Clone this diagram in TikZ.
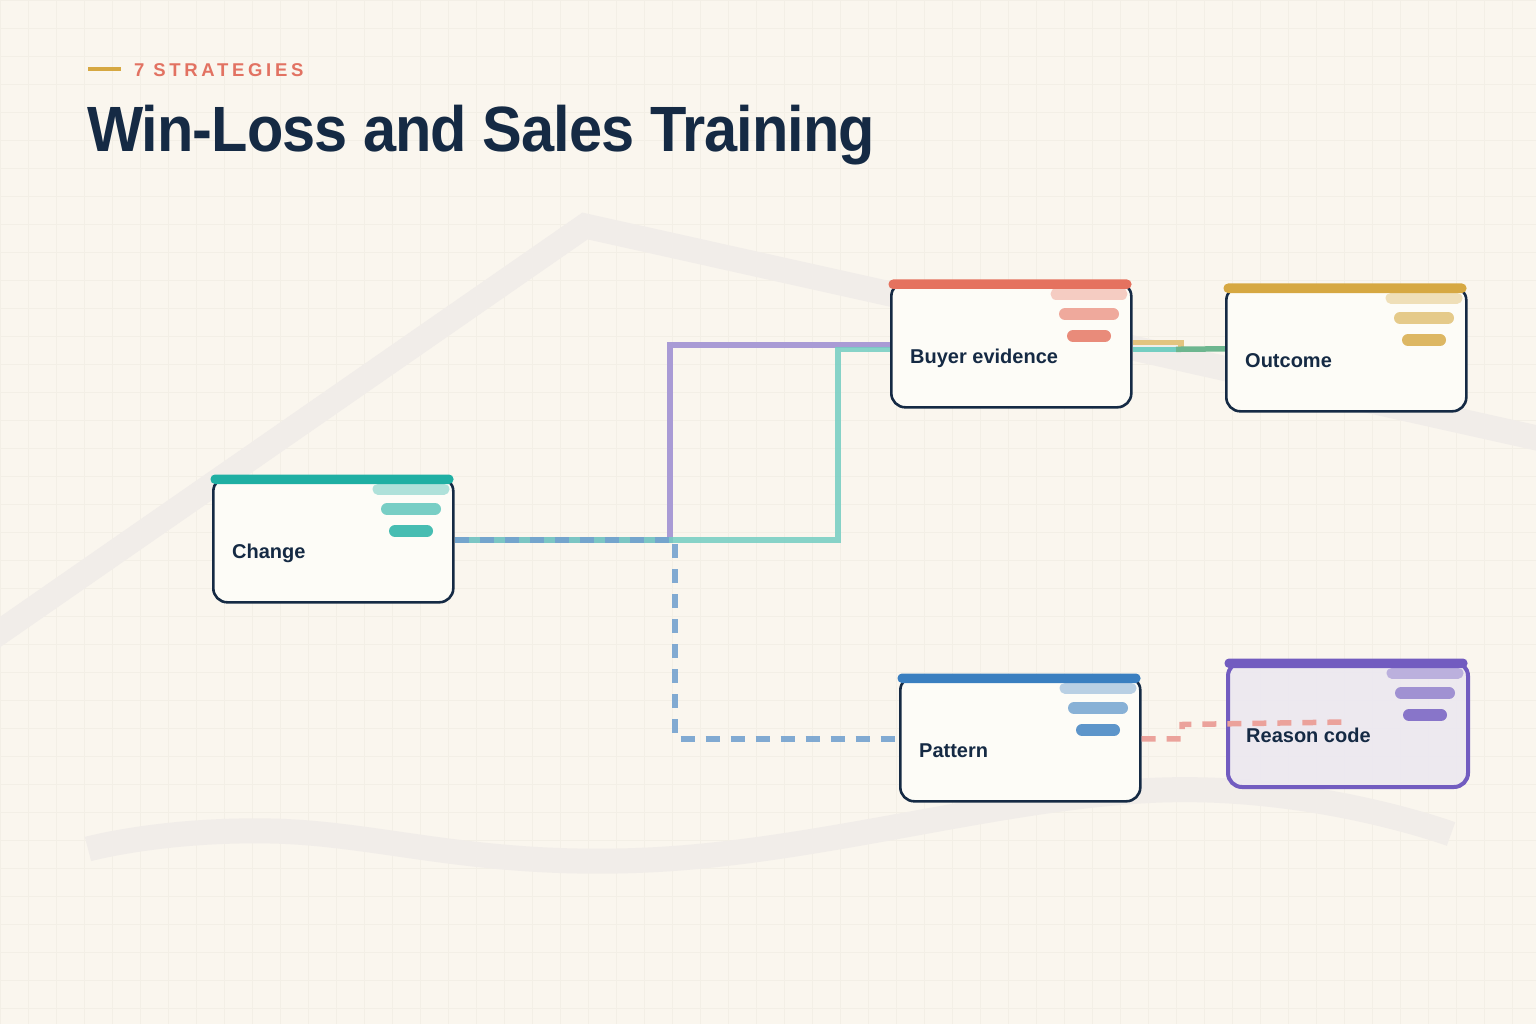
\documentclass[tikz,border=0pt]{standalone}
\usepackage{fontspec}
\setmainfont{Liberation Sans}
\newfontfamily\trackfont[LetterSpace=20]{Liberation Sans}
\newfontfamily\titlefont[FakeStretch=0.93, LetterSpace=-1.5]{Liberation Sans}
\definecolor{bg}{HTML}{FAF6EE}
\definecolor{gridc}{HTML}{F3EFE6}
\definecolor{bandc}{HTML}{F1EDE9}
\definecolor{navy}{HTML}{152A44}
\definecolor{cardfill}{HTML}{FDFCF7}
\definecolor{rcfill}{HTML}{ECE8F0}
\definecolor{cteal}{HTML}{1FAFA3}
\definecolor{cred}{HTML}{E5725F}
\definecolor{cgold}{HTML}{D6A842}
\definecolor{cblue}{HTML}{3A7FC0}
\definecolor{cpurple}{HTML}{725CC0}
\definecolor{lpurple}{HTML}{A99BD5}
\definecolor{lteal}{HTML}{74CEC2}
\definecolor{lblue}{HTML}{7EA8D2}
\definecolor{lred}{HTML}{EBA29B}
\definecolor{lgold}{HTML}{E3C47F}
\definecolor{lgreen}{HTML}{6DB68F}
\definecolor{kicker}{HTML}{E27262}
\tikzset{
  cardbox/.style={draw=navy, line width=2.6pt, fill=cardfill, rounded corners=14pt,
    minimum width=240pt, minimum height=125pt, inner sep=0pt},
  rcbox/.style={draw=cpurple, line width=4pt, fill=rcfill, fill opacity=0.92},
  lbl/.style={anchor=base west, inner sep=0pt, text=navy, font=\fontsize{20}{24}\selectfont\bfseries},
  conn/.style={line width=5.5pt},
  dashconn/.style={line width=5.5pt, dash pattern=on 14pt off 11pt},
  band/.style={draw=bandc, line width=25pt},
}
\newcommand\mkcard[7]{%
  \node[cardbox,#6,anchor=north west] (#1) at (#2,#3) {};
  \draw[line width=11pt,line cap=round,#4!35!#7] (#2+166,#3+13) -- (#2+232,#3+13);
  \draw[line width=12pt,line cap=round,#4!60!#7] (#2+175,#3+33) -- (#2+223,#3+33);
  \draw[line width=12pt,line cap=round,#4!82!#7] (#2+183,#3+55) -- (#2+215,#3+55);
  \fill[#4,rounded corners=4.5pt] (#2-1.5,#3-1.5) rectangle (#2+241.5,#3+8);
  \node[lbl] (#1-l) at (#2+20,#3+82) {#5};
}
\begin{document}
\begin{tikzpicture}[x=1pt,y=-1pt]
\useasboundingbox (0,0) rectangle (1536,1024);
\fill[bg] (0,0) rectangle (1536,1024);
\foreach \i in {0,28,...,1536} \draw[gridc,line width=0.6pt] (\i,0) -- (\i,1024);
\foreach \j in {0,28,...,1024} \draw[gridc,line width=0.6pt] (0,\j) -- (1536,\j);
% decorative bands
\draw[band] (-10,639) -- (585,226) -- (1546,440);
\draw[band] plot[smooth, tension=0.7] coordinates {(88,849) (271,831) (648,860) (1162,790) (1451,834)};
% header
\draw[cgold, line width=4pt] (88,69) -- (121,69);
\node[anchor=base west, inner sep=0pt, text=kicker, font=\trackfont\fontsize{18.5}{22}\selectfont\bfseries] (kick) at (134,77) {7 STRATEGIES};
\node[anchor=base west, inner sep=0pt, text=navy, font=\titlefont\fontsize{64}{70}\selectfont\bfseries] (title) at (87,152) {Win-Loss and Sales Training};
% routing coordinates
\coordinate (xp) at (670,0);
\coordinate (xt) at (838,0);
\coordinate (xb) at (675,0);
\coordinate (jn) at (1176,0);
\coordinate (jg) at (1181,0);
\coordinate (jr) at (1182,0);
\coordinate (rcend) at (1345,722);
% card outlines used as connector anchors (drawn beneath the cards)
\path (212,476) node[cardbox,draw=none,fill=none,anchor=north west] (ch0) {};
\path (890,281) node[cardbox,draw=none,fill=none,anchor=north west] (be0) {};
\path (1225,285) node[cardbox,draw=none,fill=none,anchor=north west] (oc0) {};
\path (899,675) node[cardbox,draw=none,fill=none,anchor=north west] (pa0) {};
\coordinate (bein2) at ([yshift=-4.5pt]be0.west);
\coordinate (beout2) at ([yshift=-4.5pt]be0.east);
\coordinate (beout1) at ([yshift=2.5pt]be0.east);
% connectors
\draw[conn, lpurple] (ch0.east) -| (be0.west -| xp) -- (be0.west);
\draw[conn, lteal, opacity=0.85] (ch0.east) -| (bein2 -| xt) -- (bein2);
\draw[dashconn, lblue!85!cblue, opacity=0.9] (ch0.east) -| (pa0.west -| xb) -- (pa0.west);
\draw[conn, lgold] (beout1) -- (beout1 -| jg) -- (beout2 -| jg);
\draw[conn, lteal] (beout2) -- (beout2 -| jn);
\draw[conn, lgreen] (beout2 -| jn) -- (oc0.west);
% cards
\mkcard{ch}{212}{476}{cteal}{Change}{}{cardfill}
\mkcard{be}{890}{281}{cred}{Buyer evidence}{}{cardfill}
\mkcard{oc}{1225}{285}{cgold}{Outcome}{}{cardfill}
\mkcard{pa}{899}{675}{cblue}{Pattern}{}{cardfill}
\node[cardbox,rcbox,anchor=north west] (rc) at (1226,660) {};
\draw[line width=11pt,line cap=round,cpurple!40!rcfill] (1392,673) -- (1458,673);
\draw[line width=12pt,line cap=round,cpurple!62!rcfill] (1401,693) -- (1449,693);
\draw[line width=12pt,line cap=round,cpurple!82!rcfill] (1409,715) -- (1441,715);
\fill[cpurple,rounded corners=4.5pt] (1224.5,658.5) rectangle (1467.5,668);
\draw[dashconn, lred] (pa.east) -| (rc.west -| jr) -- (rcend);
\node[lbl] (rc-l) at (1246,742) {Reason code};
\end{tikzpicture}
\end{document}
